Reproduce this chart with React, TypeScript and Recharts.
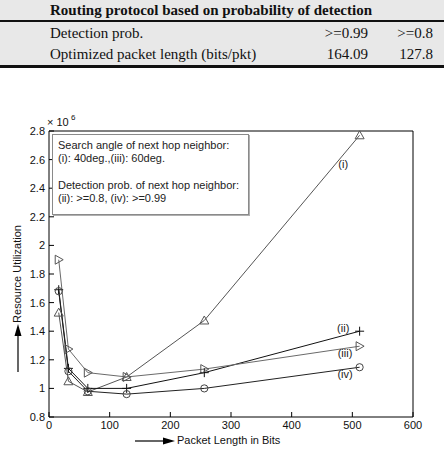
import React from 'react'
import { LineChart, Line, XAxis, YAxis, ReferenceDot } from 'recharts'

// packet lengths (bits) shared by all four curves
const packetLengths = [16, 32, 64, 128, 256, 512]
// resource utilization, in units of 10^6
const seriesI = [1.53, 1.05, 0.975, 1.08, 1.475, 2.77]
const seriesII = [1.69, 1.14, 1.0, 1.0, 1.11, 1.4]
const seriesIII = [1.9, 1.275, 1.11, 1.08, 1.135, 1.295]
const seriesIV = [1.68, 1.12, 0.98, 0.96, 1.0, 1.148]

const xTicks = [0, 100, 200, 300, 400, 500, 600]
const yTicks = [0.8, 1, 1.2, 1.4, 1.6, 1.8, 2, 2.2, 2.4, 2.6, 2.8]

const curveNames = ['(i)', '(ii)', '(iii)', '(iv)']
const curveLabelX = [485, 485, 488, 488]
const curveLabelY = [2.57, 1.42, 1.25, 1.1]

const legendLines = [
  'Search angle of next hop neighbor:',
  '(i): 40deg.,(iii): 60deg.',
  '',
  'Detection prob. of next hop neighbor:',
  '(ii): >=0.8, (iv): >=0.99',
]

const tableTitle = 'Routing protocol based on probability of detection'
const tableLabels = ['Detection prob.', 'Optimized packet length (bits/pkt)']
const tableCol1 = ['>=0.99', '164.09']
const tableCol2 = ['>=0.8', '127.8']

const data = packetLengths.map((x, i) => ({
  x,
  i: seriesI[i],
  ii: seriesII[i],
  iii: seriesIII[i],
  iv: seriesIV[i],
}))

const SANS = '"Liberation Sans", Arial, sans-serif'
const SERIF = '"Liberation Serif", "Times New Roman", serif'

type Kind = 'up' | 'plus' | 'right' | 'circle'

// matlab style hollow markers
const marker = (kind: Kind, color: string) => (p: any) => {
  const { cx, cy, index } = p
  const key = `m-${kind}-${index}`
  if (cx == null || cy == null) return <g key={key} />
  if (kind === 'up')
    return <polygon key={key} points={`${cx},${cy - 4.5} ${cx - 4.5},${cy + 3.5} ${cx + 4.5},${cy + 3.5}`} fill="none" stroke={color} strokeWidth={1} />
  if (kind === 'right')
    return <polygon key={key} points={`${cx + 4.5},${cy} ${cx - 3.5},${cy - 4.5} ${cx - 3.5},${cy + 4.5}`} fill="none" stroke={color} strokeWidth={1} />
  if (kind === 'plus')
    return (
      <g key={key} stroke={color} strokeWidth={1}>
        <line x1={cx - 4.5} y1={cy} x2={cx + 4.5} y2={cy} />
        <line x1={cx} y1={cy - 4.5} x2={cx} y2={cy + 4.5} />
      </g>
    )
  return <circle key={key} cx={cx} cy={cy} r={3.6} fill="none" stroke={color} strokeWidth={1} />
}

// curve name written at a reference dot
const curveTag = (name: string) => (p: any) => {
  const vb = p.viewBox || {}
  const cx = (vb.x ?? 0) + (vb.width ?? 0) / 2
  const cy = (vb.y ?? 0) + (vb.height ?? 0) / 2
  return (
    <text x={cx} y={cy} dy="0.35em" textAnchor="middle" fontSize={11} fontFamily={SANS} fill="#222" stroke="none">
      {name}
    </text>
  )
}

const tickStyle = { fill: '#111', fontSize: 11, fontFamily: SANS }

export default function App() {
  return (
    <div style={{ position: 'absolute', left: 0, top: 0, width: 444, height: 454, background: '#fff', overflow: 'hidden' }}>

      {/* table above the figure */}
      <div style={{ position: 'absolute', left: 0, top: 0, width: 444, height: 66, background: '#e8e8e8', fontFamily: SERIF, fontSize: 15, color: '#111' }}>
        <div style={{ position: 'absolute', left: 50, top: 0, lineHeight: '20px', fontWeight: 700, whiteSpace: 'nowrap' }}>{tableTitle}</div>
        <div style={{ position: 'absolute', left: 0, top: 20, width: 444, height: 2, background: '#111' }} />
        {tableLabels.map((lab, r) => (
          <React.Fragment key={lab}>
            <div style={{ position: 'absolute', left: 50, top: 23 + r * 21, lineHeight: '20px', whiteSpace: 'nowrap' }}>{lab}</div>
            <div style={{ position: 'absolute', right: 444 - 368, top: 23 + r * 21, lineHeight: '20px', whiteSpace: 'nowrap' }}>{tableCol1[r]}</div>
            <div style={{ position: 'absolute', right: 444 - 433, top: 23 + r * 21, lineHeight: '20px', whiteSpace: 'nowrap' }}>{tableCol2[r]}</div>
          </React.Fragment>
        ))}
        <div style={{ position: 'absolute', left: 0, top: 65, width: 444, height: 3, background: '#111' }} />
      </div>

      {/* figure */}
      <div style={{ position: 'absolute', left: 0, top: 100 }}>
        <LineChart width={444} height={354} data={data} margin={{ top: 21, right: 21, bottom: 17, left: 9 }}>
          <XAxis type="number" dataKey="x" domain={[0, 600]} ticks={xTicks} interval={0} height={20}
            tickSize={-5} tickMargin={9} axisLine={{ stroke: '#000' }} tickLine={{ stroke: '#000' }} tick={tickStyle} />
          <XAxis xAxisId="top" orientation="top" type="number" domain={[0, 600]} ticks={xTicks} interval={0} height={10}
            tickSize={-5} axisLine={{ stroke: '#000' }} tickLine={{ stroke: '#000' }} tick={false} />
          <YAxis type="number" domain={[0.8, 2.8]} ticks={yTicks} interval={0} width={40}
            tickSize={-5} tickMargin={9} axisLine={{ stroke: '#000' }} tickLine={{ stroke: '#000' }} tick={tickStyle}
            tickFormatter={(v: number) => String(+v.toFixed(1))} />
          <YAxis yAxisId="r" orientation="right" type="number" domain={[0.8, 2.8]} ticks={yTicks} interval={0} width={10}
            tickSize={-5} axisLine={{ stroke: '#000' }} tickLine={{ stroke: '#000' }} tick={false} />

          <Line dataKey="i" type="linear" stroke="#555" strokeWidth={1} dot={marker('up', '#555')} activeDot={false} isAnimationActive={false} />
          <Line dataKey="ii" type="linear" stroke="#111" strokeWidth={1} dot={marker('plus', '#111')} activeDot={false} isAnimationActive={false} />
          <Line dataKey="iii" type="linear" stroke="#6a6a6a" strokeWidth={1} dot={marker('right', '#555')} activeDot={false} isAnimationActive={false} />
          <Line dataKey="iv" type="linear" stroke="#222" strokeWidth={1} dot={marker('circle', '#444')} activeDot={false} isAnimationActive={false} />

          {curveNames.map((n, k) => (
            <ReferenceDot key={n} x={curveLabelX[k]} y={curveLabelY[k]} r={0} stroke="none" fill="none"
              label={{ content: curveTag(n) }} />
          ))}
        </LineChart>
      </div>

      {/* legend text box inside the axes */}
      <div style={{
        position: 'absolute', left: 52, top: 134, width: 190, height: 75,
        border: '1px solid #8a8a8a', boxShadow: '1px 1px 0 #b0b0b0', background: '#fff',
        fontFamily: SANS, fontSize: 11, lineHeight: '13.3px', color: '#222',
        padding: '4px 0 0 5px', boxSizing: 'content-box', whiteSpace: 'nowrap',
      }}>
        {legendLines.map((t, k) => <div key={k} style={{ height: 13.3 }}>{t}</div>)}
      </div>

      {/* axis titles, arrows and exponent */}
      <svg width={444} height={454} style={{ position: 'absolute', left: 0, top: 0, pointerEvents: 'none' }}>
        <text x={47} y={126} fontSize={11} fontFamily={SANS} fill="#111">× 10</text>
        <text x={71} y={120} fontSize={8} fontFamily={SANS} fill="#111">6</text>
        <text x={21} y={274} fontSize={11} fontFamily={SANS} fill="#111" textAnchor="middle" transform="rotate(-90 21 274)">Resource Utilization</text>
        <line x1={18} y1={372} x2={18} y2={332} stroke="#000" strokeWidth={1.2} />
        <polygon points="18,324 14.5,336 21.5,336" fill="#000" />
        <text x={177} y={444} fontSize={11} fontFamily={SANS} fill="#111">Packet Length in Bits</text>
        <line x1={135} y1={441} x2={166} y2={441} stroke="#000" strokeWidth={1.2} />
        <polygon points="175,441 163,437.5 163,444.5" fill="#000" />
      </svg>
    </div>
  )
}
